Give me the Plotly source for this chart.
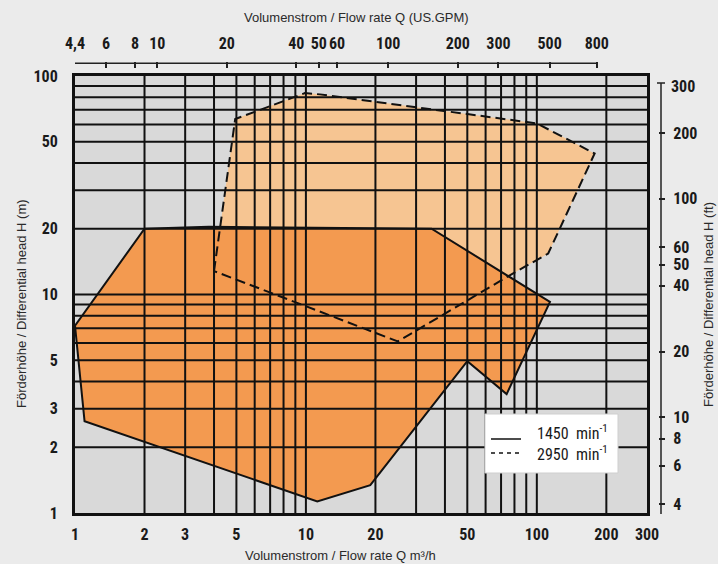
import math
import plotly.graph_objects as go

# Operating ranges of the pump series (Q in m³/h, H in m)
Q_1450 = [1.0, 2.0, 3.8, 35, 114, 74, 50, 19, 11.2, 1.1]
H_1450 = [7.2, 20, 20.4, 20, 9.25, 3.5, 4.95, 1.34, 1.13, 2.63]
Q_2950 = [4.0, 4.94, 9.9, 11.5, 100, 178, 112, 78, 25]
H_2950 = [12.8, 63.5, 83.5, 82.4, 60.7, 44.2, 15.4, 12.4, 6.1]

SPEEDS = ["1450", "2950"]

# Axis ticks
Q_TICKS = [1, 2, 3, 5, 10, 20, 50, 100, 200, 300]
H_TICKS = [1, 2, 3, 5, 10, 20, 50, 100]
GPM_TICKS = [4.4, 6, 8, 10, 20, 40, 50, 60, 100, 200, 300, 500, 800]
GPM_LABELS = ["4,4", "6", "8", "10", "20", "40", "50", "60", "100", "200", "300", "500", "800"]
FT_TICKS = [4, 6, 8, 10, 20, 40, 50, 60, 100, 200]
FT_TOP_LABEL = "300"

# Log grid
GRID_Q = [2, 3, 4, 5, 6, 7, 8, 9, 10, 20, 30, 40, 50, 60, 70, 80, 90, 100, 200]
GRID_H = [2, 3, 4, 5, 6, 7, 8, 9, 10, 20, 30, 40, 50, 60, 70, 80, 90]

Q_RANGE = (1, 300)
H_RANGE = (1, 100)
GPM_PER_M3H = 4.4
FT_AXIS_FACTOR = 3.65

PAGE_BG = "#ebebeb"
PLOT_BG = "#d9d9d9"
ORANGE = "#f39a50"
LIGHT_ORANGE = "#f6c592"

TICK_FONT = dict(family="Liberation Sans Narrow, Roboto Condensed, Liberation Sans, sans-serif",
                 size=16, color="#1a1a1a", weight="bold")
TITLE_FONT = dict(family="Liberation Sans, Arial, sans-serif", size=13, color="#2a2a2a")
LEGEND_FONT = dict(family="Liberation Sans Narrow, Roboto Condensed, Liberation Sans, sans-serif",
                   size=16, color="#1a1a1a")

W, H = 718, 564
ML, MR, MT, MB = 75, 57, 61, 51


def pxx(px):
    return (px - ML) / (W - ML - MR)


def pxy(py):
    return (H - MB - py) / (H - MT - MB)


def closed(seq):
    return list(seq) + [seq[0]]


def grid_segments():
    xs, ys = [], []
    for q in GRID_Q:
        xs += [q, q, None]
        ys += [H_RANGE[0], H_RANGE[1], None]
    for h in GRID_H:
        xs += [Q_RANGE[0], Q_RANGE[1], None]
        ys += [h, h, None]
    return xs, ys


fig = go.Figure()

# filled areas
fig.add_trace(go.Scatter(x=closed(Q_2950), y=closed(H_2950), mode="lines", fill="toself",
                         fillcolor=LIGHT_ORANGE, line=dict(width=0, color="rgba(0,0,0,0)"),
                         hoverinfo="skip", showlegend=False))
fig.add_trace(go.Scatter(x=closed(Q_1450), y=closed(H_1450), mode="lines", fill="toself",
                         fillcolor=ORANGE, line=dict(width=0, color="rgba(0,0,0,0)"),
                         hoverinfo="skip", showlegend=False))

# grid drawn over the areas
gx, gy = grid_segments()
fig.add_trace(go.Scatter(x=gx, y=gy, mode="lines", line=dict(color="#111111", width=2),
                         hoverinfo="skip", showlegend=False, connectgaps=False))

# outlines
fig.add_trace(go.Scatter(x=closed(Q_2950), y=closed(H_2950), mode="lines",
                         line=dict(color="#111111", width=2, dash="10px,5px"),
                         hoverinfo="skip", showlegend=False))
fig.add_trace(go.Scatter(x=closed(Q_1450), y=closed(H_1450), mode="lines",
                         line=dict(color="#111111", width=2),
                         hoverinfo="skip", showlegend=False))

# anchors for the secondary scales
fig.add_trace(go.Scatter(x=[GPM_TICKS[0]], y=[H_RANGE[0]], xaxis="x2", yaxis="y", mode="markers",
                         marker=dict(opacity=0), hoverinfo="skip", showlegend=False))
fig.add_trace(go.Scatter(x=[Q_RANGE[0]], y=[FT_TICKS[0]], xaxis="x", yaxis="y2", mode="markers",
                         marker=dict(opacity=0), hoverinfo="skip", showlegend=False))

log = math.log10
axis_common = dict(type="log", showgrid=False, zeroline=False, tickfont=TICK_FONT)

fig.update_layout(
    width=W, height=H,
    margin=dict(l=ML, r=MR, t=MT, b=MB, pad=0),
    paper_bgcolor=PAGE_BG, plot_bgcolor=PLOT_BG,
    showlegend=False,
    xaxis=dict(**axis_common, domain=[0, pxx(647)], range=[log(Q_RANGE[0]), log(Q_RANGE[1])],
               tickvals=Q_TICKS, ticktext=[str(v) for v in Q_TICKS], ticks="", ticklabelstandoff=5,
               showline=True, linecolor="#111111", linewidth=3, mirror=True, layer="above traces"),
    yaxis=dict(**axis_common, domain=[0, pxy(76)], range=[log(H_RANGE[0]), log(H_RANGE[1])],
               tickvals=H_TICKS, ticktext=[str(v) for v in H_TICKS], ticks="", ticklabelstandoff=11,
               showline=True, linecolor="#111111", linewidth=3, mirror=True, layer="above traces"),
    xaxis2=dict(**axis_common, overlaying="x", side="top", anchor="free", position=1,
                range=[log(Q_RANGE[0] * GPM_PER_M3H), log(Q_RANGE[1] * GPM_PER_M3H)],
                tickvals=GPM_TICKS, ticktext=GPM_LABELS, ticks="inside", ticklen=6,
                tickwidth=1.5, tickcolor="#222222", showline=False, ticklabelstandoff=9),
    yaxis2=dict(**axis_common, overlaying="y", side="right", anchor="free", position=pxx(658),
                range=[log(H_RANGE[0] * FT_AXIS_FACTOR), log(H_RANGE[1] * FT_AXIS_FACTOR)],
                tickvals=FT_TICKS, ticktext=[str(v) for v in FT_TICKS], ticks="outside", ticklen=6,
                tickwidth=1.5, tickcolor="#222222", showline=False, ticklabelstandoff=5),
)

shapes = [
    # top flow-rate scale line
    dict(type="line", xref="x2", yref="paper", x0=GPM_TICKS[0], x1=GPM_TICKS[-1],
         y0=pxy(63.3), y1=pxy(63.3), line=dict(color="#222222", width=1.5)),
    # right head scale line with end cap
    dict(type="line", xref="paper", yref="paper", x0=pxx(661), x1=pxx(661),
         y0=pxy(83), y1=pxy(514), line=dict(color="#222222", width=1.5)),
    dict(type="line", xref="paper", yref="paper", x0=pxx(657), x1=pxx(665),
         y0=pxy(83), y1=pxy(83), line=dict(color="#222222", width=1.5)),
    # legend box
    dict(type="rect", xref="paper", yref="paper", x0=pxx(485), x1=pxx(618),
         y0=pxy(473), y1=pxy(414), fillcolor="white", line=dict(color="#cfcfcf", width=1),
         layer="above"),
    dict(type="line", xref="paper", yref="paper", x0=pxx(491), x1=pxx(521),
         y0=pxy(439), y1=pxy(439), line=dict(color="#111111", width=1.5), layer="above"),
    dict(type="line", xref="paper", yref="paper", x0=pxx(491), x1=pxx(521),
         y0=pxy(453), y1=pxy(453), line=dict(color="#111111", width=1.5, dash="4px,4px"),
         layer="above"),
]
fig.update_layout(shapes=shapes)

annotations = [
    dict(text="Volumenstrom / Flow rate Q (US.GPM)", x=pxx(356), y=pxy(17)),
    dict(text="Volumenstrom / Flow rate Q m³/h", x=pxx(340), y=pxy(555)),
    dict(text="Förderhöhe / Differential head H (m)", x=pxx(21), y=pxy(304), textangle=-90),
    dict(text="Förderhöhe / Differential head H (ft)", x=pxx(708), y=pxy(305), textangle=-90),
]
for a in annotations:
    fig.add_annotation(xref="paper", yref="paper", showarrow=False, font=TITLE_FONT,
                       xanchor="center", yanchor="middle", **a)

fig.add_annotation(xref="paper", yref="paper", x=pxx(669), y=pxy(87), text=FT_TOP_LABEL,
                   showarrow=False, font=TICK_FONT, xanchor="left", yanchor="middle")

for speed, py in zip(SPEEDS, [432, 453]):
    fig.add_annotation(xref="paper", yref="paper", x=pxx(535), y=pxy(py),
                       text=f"{speed}  min<sup>-1</sup>", showarrow=False, font=LEGEND_FONT,
                       xanchor="left", yanchor="middle")

fig.write_html("out.html")
